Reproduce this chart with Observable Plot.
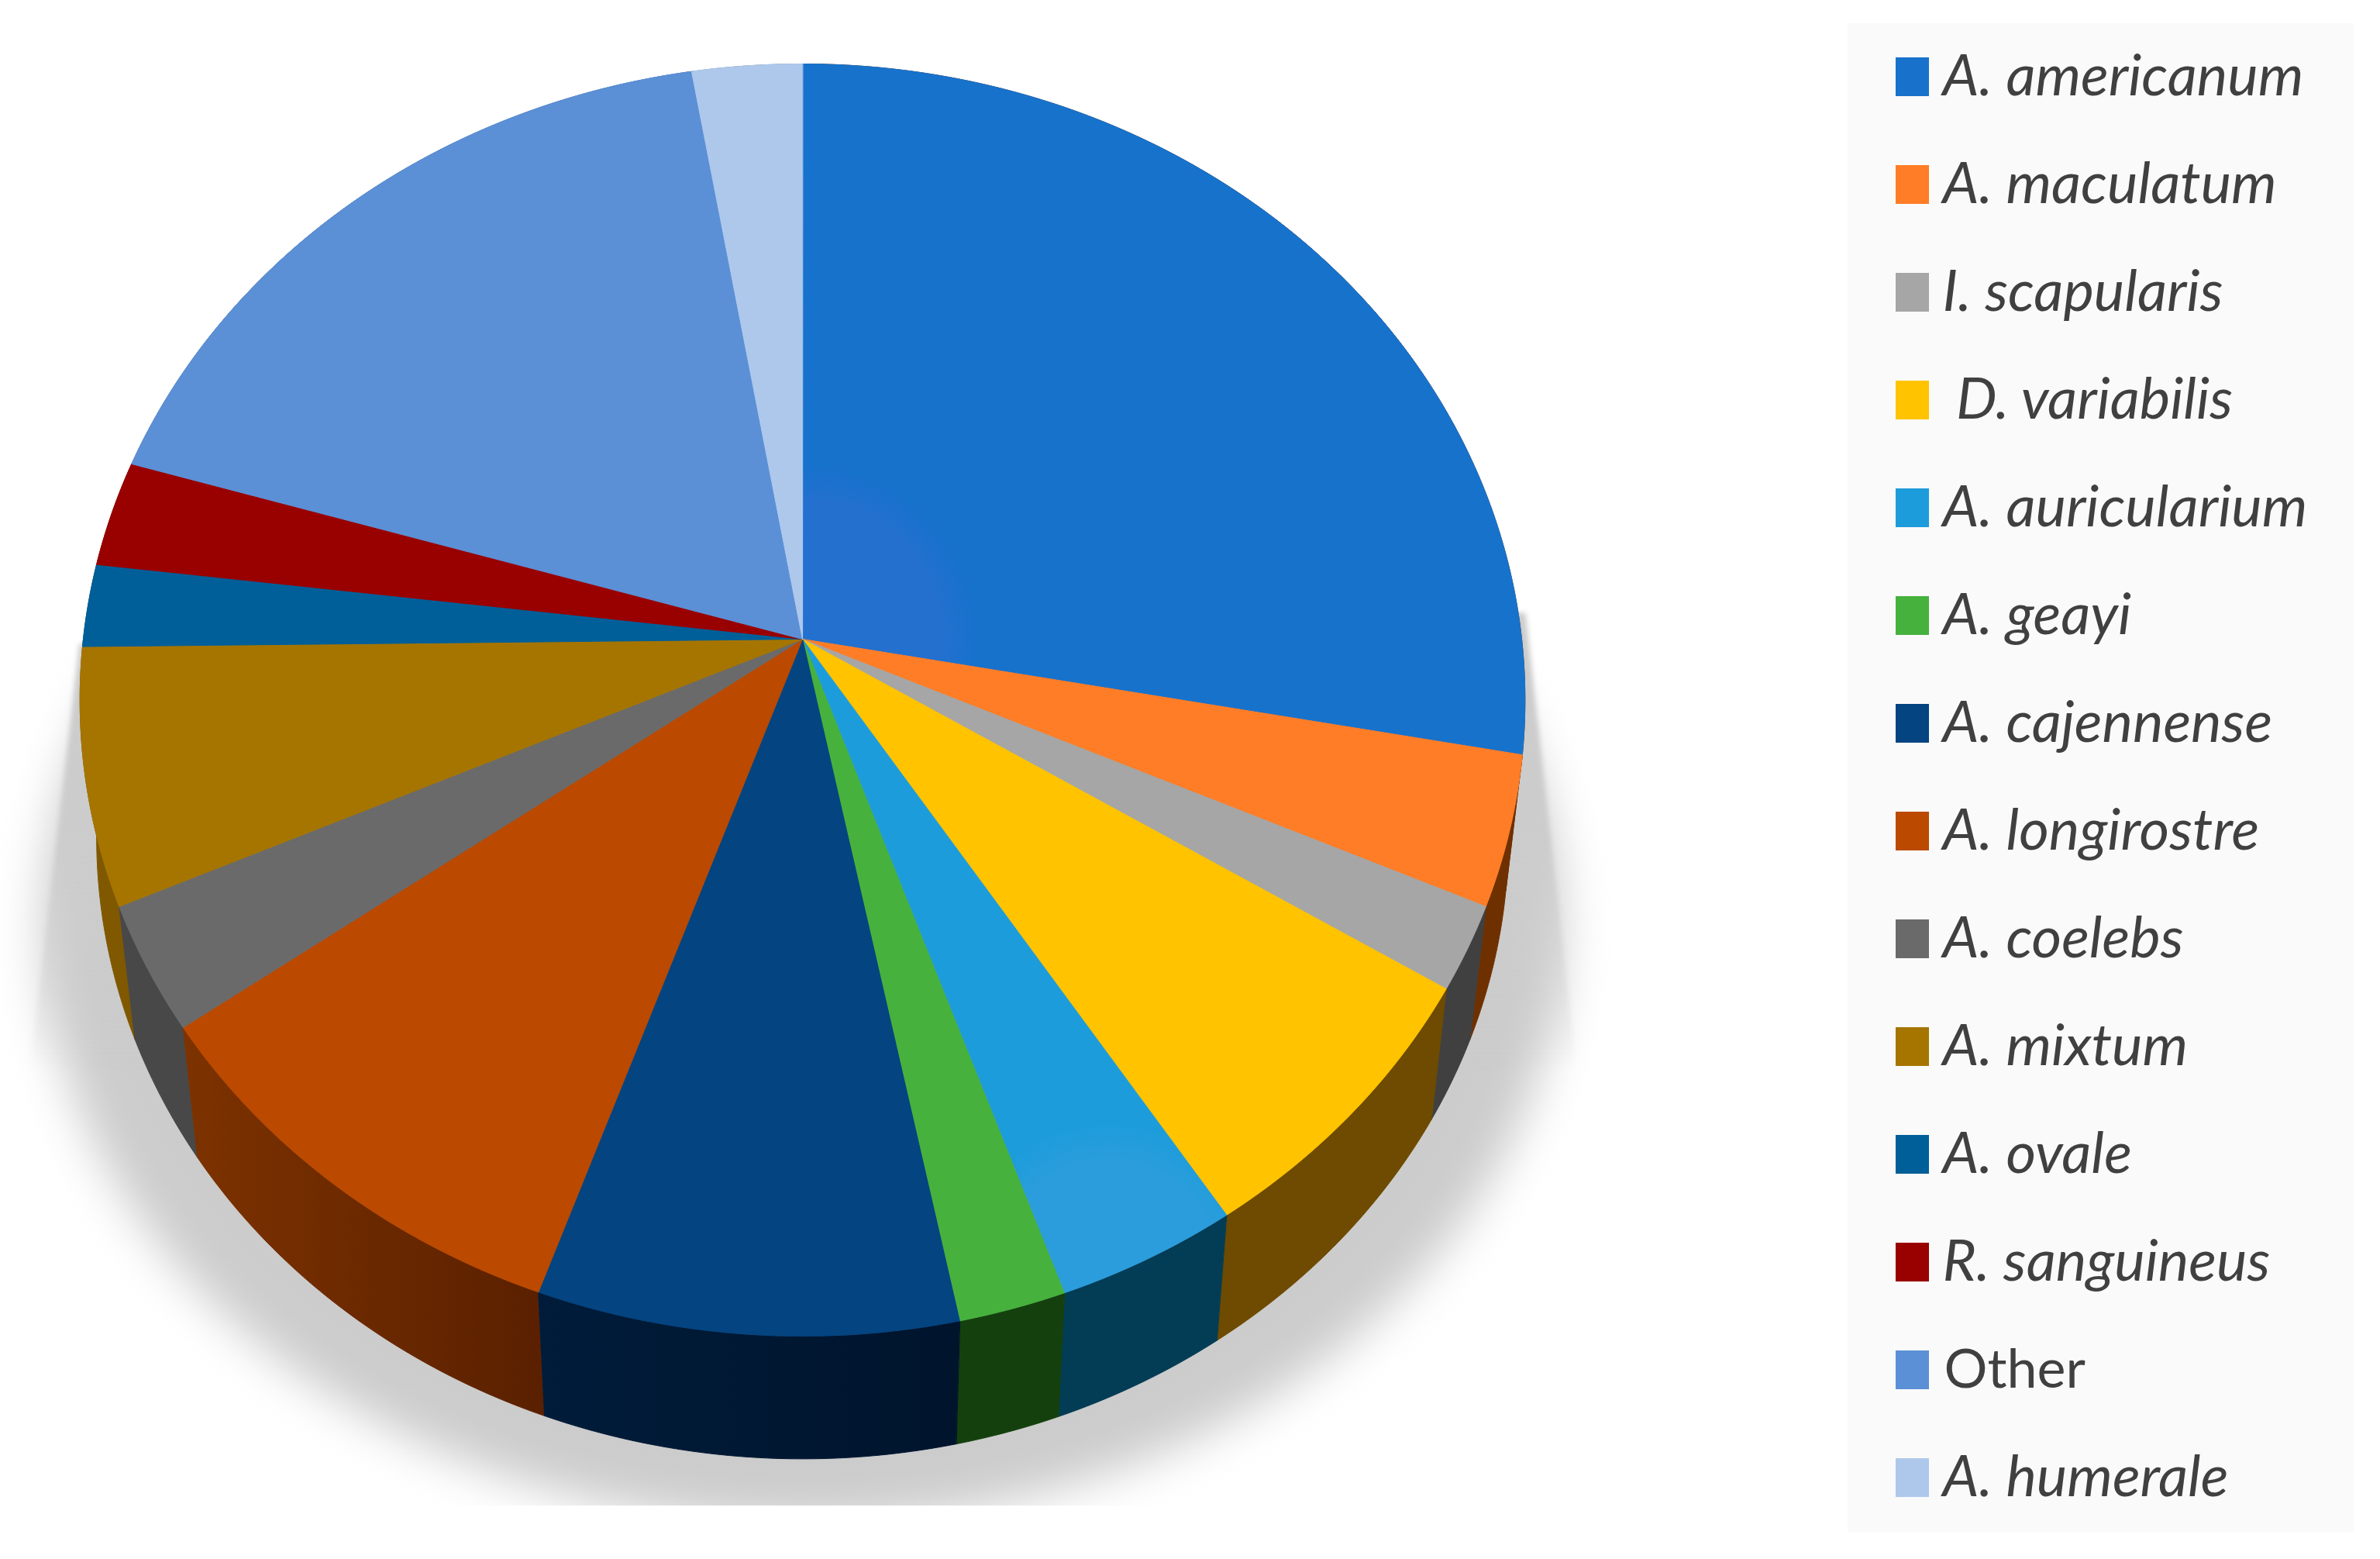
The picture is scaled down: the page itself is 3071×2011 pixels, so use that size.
<!DOCTYPE html>
<html>
<head>
<meta charset="utf-8">
<script src="https://cdn.jsdelivr.net/npm/d3@7"></script>
<script src="https://cdn.jsdelivr.net/npm/@observablehq/plot@0.6"></script>
<style>
html,body{margin:0;padding:0;background:#fff;overflow:hidden}
</style>
</head>
<body>
<div id="chart"></div>
<script>
const species = ["A. americanum","A. maculatum","I. scapularis","\u00a0D. variabilis","A. auricularium","A. geayi","A. cajennense","A. longirostre","A. coelebs","A. mixtum","A. ovale","R. sanguineus","Other","A. humerale"];
const shares = [27.9,3.8,2.15,7.05,3.75,2.2,8.6,9.7,3.2,6.5,2.1,2.7,17.7,2.7];
const swatchColors = ["#1872cc","#ff7d26","#a6a6a6","#ffc300","#1d9cdb","#47b13e","#044480","#bb4900","#6a6a6a","#a67500","#005f99","#990000","#5b90d6","#aec8ec"];
const topColors = ["url(#topAmer)","#ff7d26","#a6a6a6","#ffc300","url(#topAuric)","#47b13e","#044480","#bb4900","#6a6a6a","#a67500","#005f99","#990000","#5b90d6","#aec8ec"];
const wallColors = ["#6f3000","#6f3000","#404040","#6e4b00","#033c55","#14400e","url(#wallCajen)","url(#wallLong)","#484848","#7f5800","#004060","#600000","#3c6090","#708090"];

// projection of the tilted disc
const cx = 1035, cy = 824, A = 813, B = 928, p = 0.0957, s = 0.977, dy = 179;
const W = 3071, H = 2011;
function proj(t, bottom) {
  const u = Math.sin(t), v = -Math.cos(t), w = 1 - p * v;
  const X = B * u / w, Y = A * v / w;
  return bottom ? {x: cx + s * X, y: cy + s * Y + dy} : {x: cx + X, y: cy + Y};
}
const arcs = d3.pie().sort(null).value(d => d)(shares);
const topRows = [], wallRows = [];
const order = d3.range(arcs.length).sort((a, b) =>
  Math.abs((arcs[b].startAngle + arcs[b].endAngle) / 2 - Math.PI) - Math.abs((arcs[a].startAngle + arcs[a].endAngle) / 2 - Math.PI));
arcs.forEach((a, i) => {
  const n = Math.max(4, Math.ceil((a.endAngle - a.startAngle) / 0.01));
  const ts = d3.range(n + 1).map(k => a.startAngle + (a.endAngle - a.startAngle) * k / n);
  topRows.push({x: cx, y: cy, z: i, fill: topColors[i]});
  ts.forEach(t => topRows.push({...proj(t, false), z: i, fill: topColors[i]}));
});
order.forEach(i => {
  const a = arcs[i];
  const n = Math.max(4, Math.ceil((a.endAngle - a.startAngle) / 0.01));
  const ts = d3.range(n + 1).map(k => a.startAngle + (a.endAngle - a.startAngle) * k / n);
  ts.forEach(t => wallRows.push({...proj(t, false), z: i, fill: wallColors[i]}));
  ts.slice().reverse().forEach(t => wallRows.push({...proj(t, true), z: i, fill: wallColors[i]}));
});

// cast shadow
const shadowEllipse = d3.range(0, 361, 2).map(d => {
  const t = d * Math.PI / 180;
  return {x: cx + 980 * Math.cos(t), y: 1195 + 770 * Math.sin(t)};
});
const shadowWedge = [
  {x: 1968, y: 790}, {x: 2036, y: 1400}, {x: 36, y: 1400}, {x: 102, y: 830}
];
const shadowCut = [{x1: 0, x2: W, y1: 1942, y2: H}];

// legend
const rowH = 139, rowY0 = 99;
const legendRows = species.map((name, i) => ({name, i, color: swatchColors[i], y: rowY0 + rowH * i}));

function defs() {
  const d = d3.create("svg:defs");
  const lin = (id, x1, x2, c1, c2) => {
    const g = d.append("linearGradient").attr("id", id).attr("gradientUnits", "userSpaceOnUse")
      .attr("x1", x1).attr("x2", x2).attr("y1", 0).attr("y2", 0);
    g.append("stop").attr("offset", 0).attr("stop-color", c1);
    g.append("stop").attr("offset", 1).attr("stop-color", c2);
  };
  lin("wallLong", 240, 700, "#7d3200", "#5a2000");
  lin("wallCajen", 700, 1240, "#001c3a", "#00142c");
  const fade = d.append("linearGradient").attr("id", "wedgeFade").attr("gradientUnits", "userSpaceOnUse")
    .attr("x1", 0).attr("x2", 0).attr("y1", 1080).attr("y2", 1380);
  fade.append("stop").attr("offset", 0).attr("stop-color", "#cccccc").attr("stop-opacity", 1);
  fade.append("stop").attr("offset", 1).attr("stop-color", "#cccccc").attr("stop-opacity", 0);
  const rad = (id, x, y, r, c1, stop, c2) => {
    const g = d.append("radialGradient").attr("id", id).attr("gradientUnits", "userSpaceOnUse")
      .attr("cx", x).attr("cy", y).attr("r", r);
    g.append("stop").attr("offset", 0).attr("stop-color", c1);
    g.append("stop").attr("offset", stop).attr("stop-color", c1);
    g.append("stop").attr("offset", 1).attr("stop-color", c2);
  };
  rad("topAmer", cx, cy, 225, "#2370cf", 0.8, "#1772cc");
  rad("topAuric", 1430, 1640, 190, "#2b9ddc", 0.75, "#1d9cdb");
  return d.node();
}

const chart = Plot.plot({
  width: W, height: H, margin: 0,
  x: {domain: [0, W], range: [0, W], axis: null},
  y: {domain: [0, H], range: [0, H], axis: null},
  color: {type: "identity"},
  style: {background: "#fff"},
  marks: [
    defs,
    Plot.line(shadowEllipse, {x: "x", y: "y", curve: "linear-closed", fill: "#cccccc", imageFilter: "blur(30px)"}),
    Plot.line(shadowWedge, {x: "x", y: "y", curve: "linear-closed", fill: "url(#wedgeFade)", imageFilter: "blur(3px)"}),
    Plot.rect(shadowCut, {x1: "x1", x2: "x2", y1: "y1", y2: "y2", fill: "#fff"}),
    Plot.line(wallRows, {x: "x", y: "y", z: "z", curve: "linear-closed", fill: "fill", stroke: "fill", strokeWidth: 1}),
    Plot.line(topRows, {x: "x", y: "y", z: "z", curve: "linear-closed", fill: "fill", stroke: "fill", strokeWidth: 1}),
    Plot.rect([{}], {x1: () => 2384, x2: () => 3037, y1: () => 30, y2: () => 1977, fill: "#fafafa"}),
    Plot.rect(legendRows, {x1: () => 2446, x2: () => 2489, y1: d => d.y - 25, y2: d => d.y + 25, fill: "color"}),
    Plot.text(legendRows.filter(d => d.name !== "Other"), {x: () => 2506, y: "y", text: "name", textAnchor: "start", fill: "#404040", fontFamily: "Lato", fontStyle: "italic", fontSize: 74.5}),
    Plot.text(legendRows.filter(d => d.name === "Other"), {x: () => 2508, y: "y", text: "name", textAnchor: "start", fill: "#404040", fontFamily: "Lato", fontSize: 70})
  ]
});
document.getElementById("chart").append(chart);
</script>
</body>
</html>
